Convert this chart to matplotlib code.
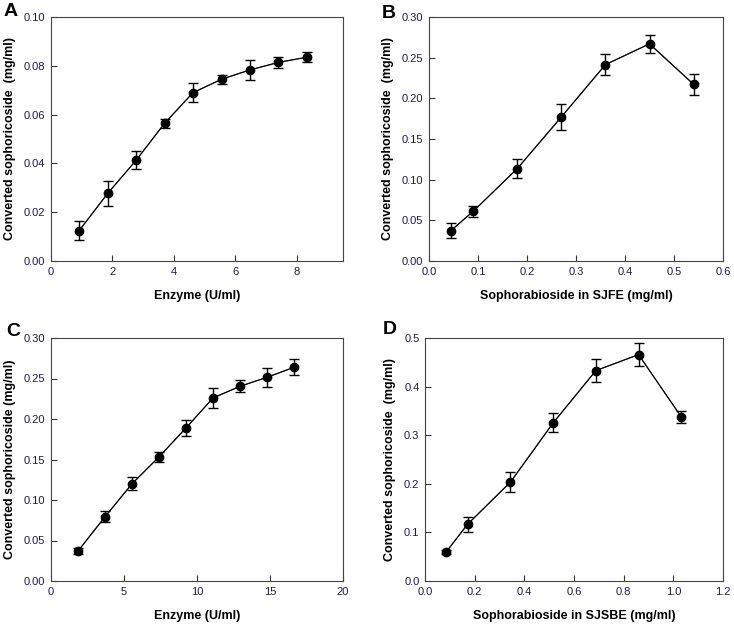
import matplotlib
matplotlib.use("Agg")
import matplotlib.pyplot as plt

plt.rcParams['font.family'] = ['Liberation Sans', 'DejaVu Sans']

# Panel A: enzyme dose (SJFE)
a_x = [0.92, 1.85, 2.77, 3.70, 4.62, 5.55, 6.47, 7.40, 8.32]
a_y = [0.0125, 0.0278, 0.0413, 0.0565, 0.0690, 0.0745, 0.0783, 0.0814, 0.0835]
a_err = [0.0040, 0.0051, 0.0038, 0.0019, 0.0040, 0.0018, 0.0040, 0.0021, 0.0021]

# Panel B: substrate in SJFE
b_x = [0.045, 0.09, 0.18, 0.27, 0.36, 0.45, 0.54]
b_y = [0.0375, 0.061, 0.1135, 0.177, 0.2414, 0.267, 0.2172]
b_err = [0.0094, 0.0068, 0.0113, 0.016, 0.013, 0.011, 0.0125]

# Panel C: enzyme dose (SJSBE)
c_x = [1.85, 3.70, 5.55, 7.40, 9.25, 11.10, 12.95, 14.80, 16.65]
c_y = [0.037, 0.0793, 0.120, 0.1533, 0.189, 0.226, 0.2404, 0.2515, 0.2639]
c_err = [0.0037, 0.007, 0.008, 0.0065, 0.0095, 0.0128, 0.0076, 0.012, 0.0097]

# Panel D: substrate in SJSBE
d_x = [0.086, 0.172, 0.344, 0.516, 0.688, 0.86, 1.032]
d_y = [0.0603, 0.117, 0.2034, 0.3253, 0.4329, 0.4658, 0.3377]
d_err = [0.0045, 0.0155, 0.021, 0.0195, 0.0236, 0.0236, 0.0123]

W, H = 734, 630
fig = plt.figure(figsize=(W / 100, H / 100), dpi=100)


def make_axes(left, right, top, bottom):
    return fig.add_axes([left / W, (H - bottom) / H, (right - left) / W, (bottom - top) / H])


def draw(ax, x, y, err, xlim, xticks, xfmt, ylim, yticks, yfmt, xlabel, ylabel):
    ax.errorbar(x, y, yerr=err, color='black', ecolor='black', elinewidth=1.0,
                capsize=3.5, capthick=1.0, marker='o', markersize=6,
                lw=0.8, zorder=3)
    ax.plot(x, y, color='#404040', lw=0.8, zorder=2)
    ax.set_xlim(*xlim)
    ax.set_ylim(*ylim)
    ax.set_xticks(xticks)
    ax.set_xticklabels([xfmt.format(v) for v in xticks])
    ax.set_yticks(yticks)
    ax.set_yticklabels([yfmt.format(v) for v in yticks])
    ax.tick_params(direction='in', length=4, width=0.8, labelsize=8,
                   labelcolor='#1c1c4a', color='#333333', pad=4)
    for s in ax.spines.values():
        s.set_color('#444444')
        s.set_linewidth(0.8)
    ax.set_xlabel(xlabel, fontsize=9, fontweight='bold', labelpad=10)
    ax.set_ylabel(ylabel, fontsize=9, fontweight='bold', labelpad=6)


def letter(px, py, s):
    fig.text(px / W, 1 - py / H, s, fontsize=14, fontweight='bold',
             va='center', ha='center')


ax_a = make_axes(51, 343, 17, 261)
draw(ax_a, a_x, a_y, a_err, (0, 9.5), [0, 2, 4, 6, 8], '{:g}',
     (0, 0.10), [0, 0.02, 0.04, 0.06, 0.08, 0.10], '{:.2f}',
     'Enzyme (U/ml)', 'Converted sophoricoside  (mg/ml)')

ax_b = make_axes(429, 723, 17, 261)
draw(ax_b, b_x, b_y, b_err, (0, 0.6), [0, 0.1, 0.2, 0.3, 0.4, 0.5, 0.6], '{:.1f}',
     (0, 0.30), [0, 0.05, 0.10, 0.15, 0.20, 0.25, 0.30], '{:.2f}',
     'Sophorabioside in SJFE (mg/ml)', 'Converted sophoricoside  (mg/ml)')

ax_c = make_axes(51, 343, 338, 581)
draw(ax_c, c_x, c_y, c_err, (0, 20), [0, 5, 10, 15, 20], '{:g}',
     (0, 0.30), [0, 0.05, 0.10, 0.15, 0.20, 0.25, 0.30], '{:.2f}',
     'Enzyme (U/ml)', 'Converted sophoricoside (mg/ml)')

ax_d = make_axes(425, 723, 338, 581)
draw(ax_d, d_x, d_y, d_err, (0, 1.2), [0, 0.2, 0.4, 0.6, 0.8, 1.0, 1.2], '{:.1f}',
     (0, 0.5), [0, 0.1, 0.2, 0.3, 0.4, 0.5], '{:.1f}',
     'Sophorabioside in SJSBE (mg/ml)', 'Converted sophoricoside  (mg/ml)')

letter(11, 12, 'A')
letter(389, 13, 'B')
letter(13, 331, 'C')
letter(390, 330, 'D')

fig.savefig('out.png', dpi=100)
